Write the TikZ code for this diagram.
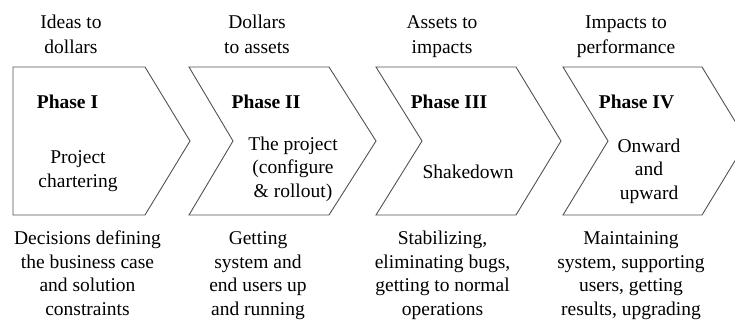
\documentclass[tikz,border=0pt]{standalone}
\usepackage{fontspec}
\setmainfont{Liberation Serif}
\begin{document}
\begin{tikzpicture}[x=1pt,y=-1pt,
  chev/.style={draw=black!68, line width=0.9pt, line join=miter},
  txt/.style={font=\fontsize{19.5}{23.4}\selectfont, align=center, inner sep=0pt, anchor=base},
  toptxt/.style={font=\fontsize{19.5}{25}\selectfont, align=center, inner sep=0pt, anchor=base},
  phase/.style={font=\fontsize{19.5}{23.5}\selectfont\bfseries, inner sep=0pt, anchor=base}]
\useasboundingbox (0,0) rectangle (735,322);
\clip (0,0) rectangle (735,322);
% chevrons
\draw[chev] (13,67) -- (145,67) -- (190,141) -- (145,215) -- (13,215) -- cycle;
\draw[chev] (189,67) -- (329,67) -- (376,141) -- (329,215) -- (189,215) -- (233,141) -- cycle;
\draw[chev] (376,67) -- (516,67) -- (561,141) -- (516,215) -- (376,215) -- (422,141) -- cycle;
\draw[chev] (563,67) -- (702,67) -- (747,141) -- (702,215) -- (563,215) -- (608,141) -- cycle;
% top labels (anchor = baseline of last line)
\node[toptxt] (t1) at (71,53) {Ideas to\\dollars};
\node[toptxt] (t2) at (257,53) {Dollars\\to assets};
\node[toptxt] (t3) at (442,53) {Assets to\\impacts};
\node[toptxt] (t4) at (626,53) {Impacts to\\performance};
% phase titles
\node[phase] (p1) at (67.5,108) {Phase I};
\node[phase] (p2) at (266,108) {Phase II};
\node[phase] (p3) at (449,108) {Phase III};
\node[phase] (p4) at (636.5,108) {Phase IV};
% chevron texts
\node[txt] (c1) at (78,187) {Project\\chartering};
\node[txt] (c2) at (293,197) {The project\\(configure\\\& rollout)};
\node[txt] (c3) at (468,178) {Shakedown};
\node[txt] (c4) at (649,199) {Onward\\and\\upward};
% bottom texts
\node[txt] (b1) at (87.5,315) {Decisions defining\\the business case\\and solution\\constraints};
\node[txt] (b2) at (258,315) {Getting\\system and\\end users up\\and running};
\node[txt] (b3) at (442.5,315) {Stabilizing,\\eliminating bugs,\\getting to normal\\operations};
\node[txt] (b4) at (631,315) {Maintaining\\system, supporting\\users, getting\\results, upgrading};
\end{tikzpicture}
\end{document}
